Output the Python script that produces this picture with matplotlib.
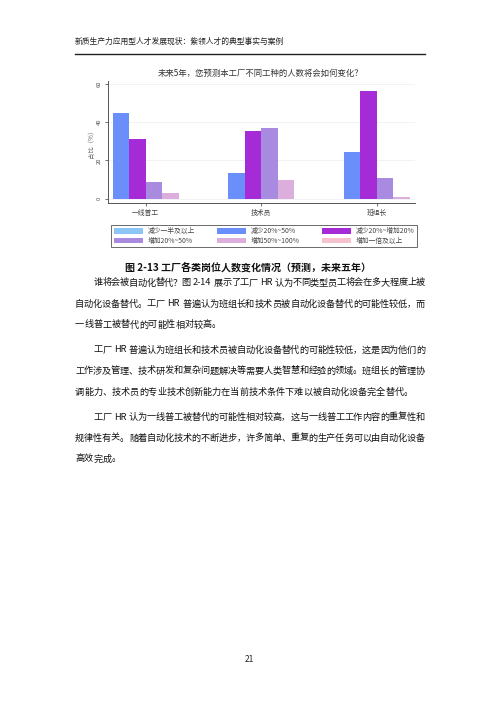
import re
import numpy as np
import matplotlib
matplotlib.use("Agg")
import matplotlib.pyplot as plt
import matplotlib.patches as mpatches

plt.rcParams["font.family"] = ["Noto Sans CJK SC", "DejaVu Sans"]

W, H = 500, 707

# --- data ---
groups = ["一线普工", "技术员", "班组长"]
series = ["减少一半及以上", "减少20%~50%", "减少20%~增加20%",
          "增加20%~50%", "增加50%~100%", "增加一倍及以上"]
colors = ["#8cc6f5", "#6a8ffb", "#a42bd6", "#a88be0", "#dcaedc", "#f6c2cf"]
# share (%) per series, nan = not present in chart
cut_half = [np.nan, np.nan, np.nan]
cut_20_50 = [44.6, 13.6, 24.2]
stable = [31.0, 35.2, 56.3]
add_20_50 = [8.7, 36.9, 10.6]
add_50_100 = [3.0, 9.8, 0.9]
add_double = [np.nan, np.nan, np.nan]
values = [cut_half, cut_20_50, stable, add_20_50, add_50_100, add_double]
yticks = [0, 20, 40, 60]

header = "新质生产力应用型人才发展现状：紫领人才的典型事实与案例"
title = "未来5年，您预测本工厂不同工种的人数将会如何变化？"
caption = "图 2-13 工厂各类岗位人数变化情况（预测，未来五年）"
body = [
    ("谁将会被自动化替代？图 2-14 展示了工厂 HR 认为不同类型员工将会在多大程度上被", True, True),
    ("自动化设备替代。工厂 HR 普遍认为班组长和技术员被自动化设备替代的可能性较低，而", False, True),
    ("一线普工被替代的可能性相对较高。", False, False),
    ("工厂 HR 普遍认为班组长和技术员被自动化设备替代的可能性较低，这是因为他们的", True, True),
    ("工作涉及管理、技术研发和复杂问题解决等需要人类智慧和经验的领域。班组长的管理协", False, True),
    ("调能力、技术员的专业技术创新能力在当前技术条件下难以被自动化设备完全替代。", False, False),
    ("工厂 HR 认为一线普工被替代的可能性相对较高，这与一线普工工作内容的重复性和", True, True),
    ("规律性有关。随着自动化技术的不断进步，许多简单、重复的生产任务可以由自动化设备", False, True),
    ("高效完成。", False, False),
]
body_y = [283, 304, 325, 350, 371, 392, 417, 438, 459]


def fx(x):
    return x / W


def fy(y):
    return 1 - y / H


fig = plt.figure(figsize=(W / 100, H / 100), dpi=100)
fig.patch.set_facecolor("white")

# --- page header ---
fig.text(fx(75), fy(42), header, fontsize=5.6, color="#222222",
         ha="left", va="center")
fig.add_artist(plt.Line2D([fx(75), fx(425)], [fy(54), fy(54)],
                          color="#222222", lw=1.0))

# --- chart ---
px_per_unit = 115 / 60
y0_px = 198.7
ax_top, ax_bot = 81, 202.7
ax_left, ax_right = 107.7, 415
grp_px = 115.6
grp0_px = 145.7
bar_w = 16.5 / grp_px

ax = fig.add_axes([fx(ax_left), fy(ax_bot), (ax_right - ax_left) / W,
                   (ax_bot - ax_top) / H])
ax.set_ylim(-(ax_bot - y0_px) / px_per_unit,
            60 + (y0_px - 60 * px_per_unit - ax_top) / px_per_unit)
ax.set_xlim((ax_left - grp0_px) / grp_px, (ax_right - grp0_px) / grp_px)

present = [i for i, v in enumerate(values) if not np.all(np.isnan(v))]
n = len(present)
x = np.arange(len(groups))
for k, i in enumerate(present):
    off = (k - (n - 1) / 2) * bar_w
    ax.bar(x + off, values[i], width=bar_w, color=colors[i],
           edgecolor="none", zorder=2)

ax.set_yticks(yticks)
ax.set_yticklabels([str(t) for t in yticks], rotation=90, va="center",
                   fontsize=4.2, color="#555555")
ax.set_xticks(x)
ax.set_xticklabels(groups, fontsize=4.9, color="#444444")
ax.tick_params(axis="both", length=2.5, width=0.6, color="#555555", pad=2)
ax.yaxis.grid(True, color="#eef0f5", lw=0.6)
ax.set_axisbelow(True)
for s in ["top", "right"]:
    ax.spines[s].set_visible(False)
for s in ["left", "bottom"]:
    ax.spines[s].set_color("#555555")
    ax.spines[s].set_linewidth(0.7)
ax.set_ylabel("占比（%）", fontsize=4.6, color="#666666", labelpad=1)

fig.text(fx(261), fy(73), title, fontsize=6.0, color="#333333",
         ha="center", va="center")

# legend: row-major order over 3 columns
handles = [mpatches.Patch(facecolor=c, edgecolor="none", label=s)
           for s, c in zip(series, colors)]
order = [0, 3, 1, 4, 2, 5]
leg = fig.legend([handles[i] for i in order], [series[i] for i in order],
                 ncol=3, loc="center", bbox_to_anchor=(fx(264), fy(236.2)),
                 fontsize=4.9, frameon=True, fancybox=False,
                 handlelength=4.3, handleheight=0.8, handletextpad=0.7,
                 columnspacing=3.2, labelspacing=0.25, borderpad=0.35)
leg.get_frame().set_edgecolor("#444444")
leg.get_frame().set_linewidth(0.7)
for t in leg.get_texts():
    t.set_color("#444444")

# --- caption ---
fig.text(fx(248), fy(267), caption, fontsize=7.2, fontweight="bold",
         color="#111111", ha="center", va="center")

# --- body text, justified ---
renderer = fig.canvas.get_renderer()
FS = 6.6
left_px, right_px = 75, 425
indent_px = 2 * FS * 100 / 72


def tok_width(tok):
    if tok == " ":
        return 0.3 * FS * 100 / 72
    t = fig.text(0, 0, tok, fontsize=FS)
    w = t.get_window_extent(renderer).width
    t.remove()
    return w


for (line, indent, justify), yy in zip(body, body_y):
    toks = re.findall(r"[A-Za-z0-9\-]+| |.", line)
    widths = [tok_width(t) for t in toks]
    start = left_px + (indent_px if indent else 0)
    gap = 0.0
    if justify and len(toks) > 1:
        gap = (right_px - start - sum(widths)) / (len(toks) - 1)
    xpos = start
    for tok, w in zip(toks, widths):
        if tok != " ":
            fig.text(fx(xpos), fy(yy), tok, fontsize=FS, color="#111111",
                     ha="left", va="center")
        xpos += w + gap

# page number
fig.text(fx(249), fy(660), "21", fontsize=6.0, color="#222222",
         ha="center", va="center")

fig.savefig("out.png", dpi=100, facecolor="white")
